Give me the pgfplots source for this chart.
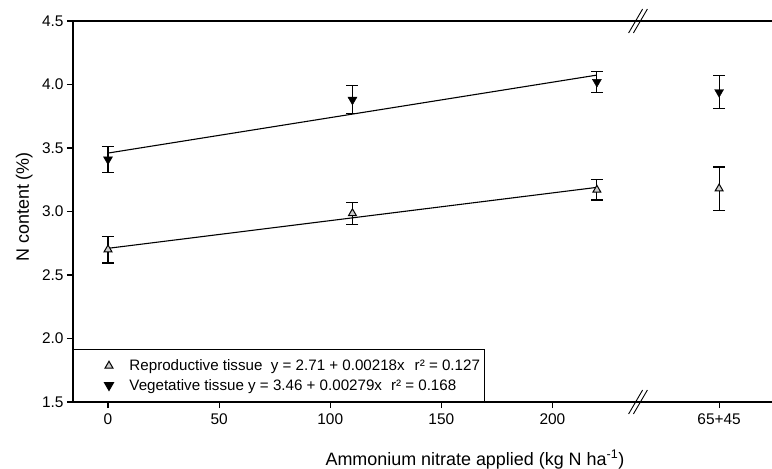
\documentclass[border=0pt]{standalone}
\usepackage{fontspec}
\setmainfont{Liberation Sans}
\usepackage{pgfplots}
\pgfplotsset{compat=1.18}
\usetikzlibrary{calc}
\pgfplotsset{mylegimg/.style={legend image code/.code={\path (0bp,0bp); \draw[##1] plot coordinates {(33bp,0bp)};}}}

\begin{document}
\begin{tikzpicture}
\begin{axis}[
 scale only axis, width=699bp, height=381bp,
 xmin=-15.75, xmax=298.8, ymin=1.5, ymax=4.5,
 axis x line=box, axis y line=left, axis line style={-, line width=1.1bp},
 tick align=outside, xtick pos=bottom, ytick pos=left,
 major tick length=6bp, tick style={line width=1.1bp, black},
 xtick={0,50,100,150,200,275}, xticklabels={0,50,100,150,200,65+45},
 ytick={1.5,2,2.5,3,3.5,4,4.5},
 yticklabel style={/pgf/number format/.cd, fixed, fixed zerofill, precision=1},
 /pgf/number format/assume math mode=true,
 tick label style={font=\fontsize{15.5}{18}\selectfont},
 xticklabel style={yshift=-2bp},
 xlabel={Ammonium nitrate applied (kg N ha\textsuperscript{-1})},
 ylabel={N content (\%)},
 label style={font=\fontsize{18}{21}\selectfont},
 xlabel style={at={(rel axis cs:0.575,0)}, anchor=base, yshift=-63bp},
 ylabel style={at={(rel axis cs:0,0.512)}, anchor=base, yshift=44bp},
 legend style={at={(rel axis cs:0,0)}, anchor=south west, draw=black, line width=1bp,
  font=\fontsize{15.2}{19}\selectfont, inner xsep=2bp, inner ysep=8bp,
  row sep=3bp, /tikz/every odd column/.append style={column sep=14bp}},
 legend cell align=left,
 clip=false,
]
% regression lines (from reported equations)
\addplot[black, line width=1.1bp, forget plot] coordinates {(0,2.71) (220,3.190)};
\addplot[black, line width=1.1bp, forget plot] coordinates {(0,3.46) (220,4.074)};

% reproductive tissue
\addplot[only marks, mylegimg, mark=triangle*, mark size=4.6bp, mark options={fill=gray!40, draw=black, line width=1bp},
 error bars/.cd, y dir=both, y explicit,
 error bar style={line width=1.2bp, black},
 error mark options={rotate=90, mark size=6bp, line width=1.2bp}]
 coordinates {(0,2.70) +- (0,0.105) (110,2.985) +- (0,0.085) (220,3.17) +- (0,0.08) (275,3.18) +- (0,0.17)};
\addlegendentry{Reproductive tissue\ \ y = 2.71 + 0.00218x\hspace{10bp}r² = 0.127}

% vegetative tissue
\addplot[only marks, mylegimg, mark=triangle*, mark size=5.2bp, mark options={fill=black, draw=black, rotate=180},
 error bars/.cd, y dir=both, y explicit,
 error bar style={line width=1.2bp, black},
 error mark options={rotate=90, mark size=6bp, line width=1.2bp}]
 coordinates {(0,3.41) +- (0,0.10) (110,3.88) +- (0,0.11) (220,4.02) +- (0,0.085) (275,3.94) +- (0,0.13)};
\addlegendentry{Vegetative tissue y = 3.46 + 0.00279x\hspace{9bp}r² = 0.168}

% axis break marks
\draw[line width=0.9bp] ($(axis cs:238.5,4.5)+(-9.4bp,-12bp)$) -- ++(14bp,24bp);
\draw[line width=0.9bp] ($(axis cs:238.5,4.5)+(-4.6bp,-12bp)$) -- ++(14bp,24bp);
\draw[line width=0.9bp] ($(axis cs:238.5,1.5)+(-9.4bp,-12bp)$) -- ++(14bp,24bp);
\draw[line width=0.9bp] ($(axis cs:238.5,1.5)+(-4.6bp,-12bp)$) -- ++(14bp,24bp);
\coordinate (bl) at (rel axis cs:0,0);
\coordinate (tr) at (rel axis cs:1,1);
\end{axis}
\pgfresetboundingbox
\path ($(bl)+(-73bp,-67bp)$) rectangle ($(tr)+(0bp,21bp)$);
\end{tikzpicture}
\end{document}
